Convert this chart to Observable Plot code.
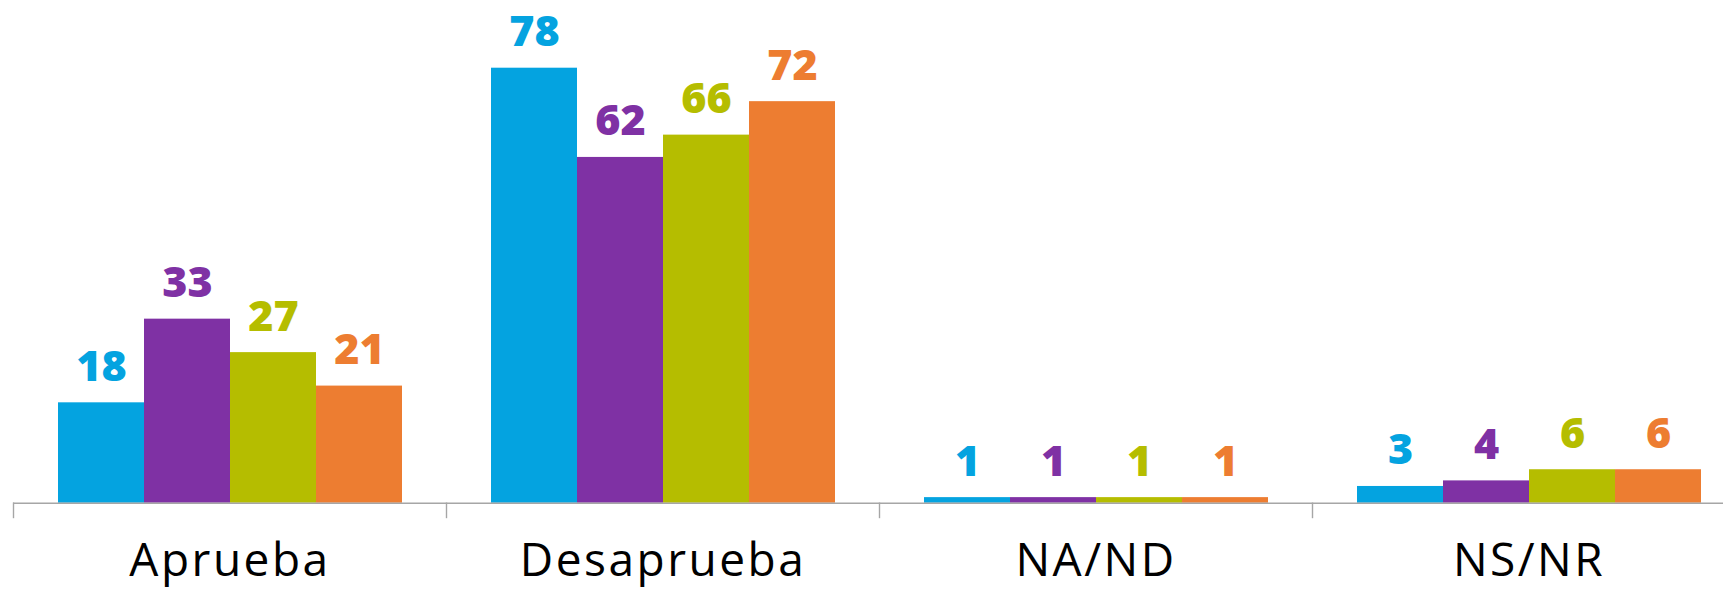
<!DOCTYPE html>
<html>
<head>
<meta charset="utf-8">
<script src="https://cdn.jsdelivr.net/npm/d3@7"></script>
<script src="https://cdn.jsdelivr.net/npm/@observablehq/plot@0.6"></script>
<style>
  html, body { margin: 0; padding: 0; background: #fff; overflow: hidden; }
  #chart svg { overflow: hidden; }
  #chart g[aria-label="fx-axis tick label"] text { letter-spacing: 2.5px; }
</style>
</head>
<body>
<div id="chart"></div>
<script>
const categories = ["Aprueba", "Desaprueba", "NA/ND", "NS/NR"];
const series = ["Serie 1", "Serie 2", "Serie 3", "Serie 4"];
const colors = ["#04A3E0", "#7F31A4", "#B5BD00", "#ED7D31"];
const values = {
  "Serie 1": [18, 78, 1, 3],
  "Serie 2": [33, 62, 1, 4],
  "Serie 3": [27, 66, 1, 6],
  "Serie 4": [21, 72, 1, 6]
};

const data = [];
categories.forEach((c, i) => {
  series.forEach(s => data.push({category: c, series: s, value: values[s][i]}));
});

const font = "'Open Sans', sans-serif";

const chart = Plot.plot({
  width: 1723,
  height: 590,
  marginTop: 0,
  marginBottom: 73,
  marginLeft: 0,
  marginRight: 0,
  style: {fontFamily: font, background: "white", maxWidth: "none"},
  fx: {domain: categories, range: [12.7, 1745.7], padding: 0, axis: null},
  x: {domain: series, paddingInner: 0, paddingOuter: 0.5, axis: null},
  y: {domain: [0, 78], insetBottom: 14.3, insetTop: 67.7, axis: null},
  color: {domain: series, range: colors},
  marks: [
    Plot.barY(data, {fx: "category", x: "series", y: "value", fill: "series", inset: 0}),
    Plot.ruleY([0], {stroke: "#a6a6a6", strokeWidth: 1.4}),
    Plot.frame({anchor: "left", stroke: "#a6a6a6", strokeWidth: 1.4, insetTop: 502.7}),
    Plot.text(data, {
      fx: "category", x: "series", y: "value", text: d => String(d.value),
      fill: "series", lineAnchor: "bottom", dy: -22,
      fontSize: 43, fontWeight: 800, fontFamily: font
    }),
    Plot.axisFx({
      anchor: "bottom", tickSize: 0, tickPadding: 26.3, fontSize: 46,
      fill: "#000", label: null, fontFamily: font
    })
  ]
});
document.getElementById("chart").appendChild(chart);
</script>
</body>
</html>
